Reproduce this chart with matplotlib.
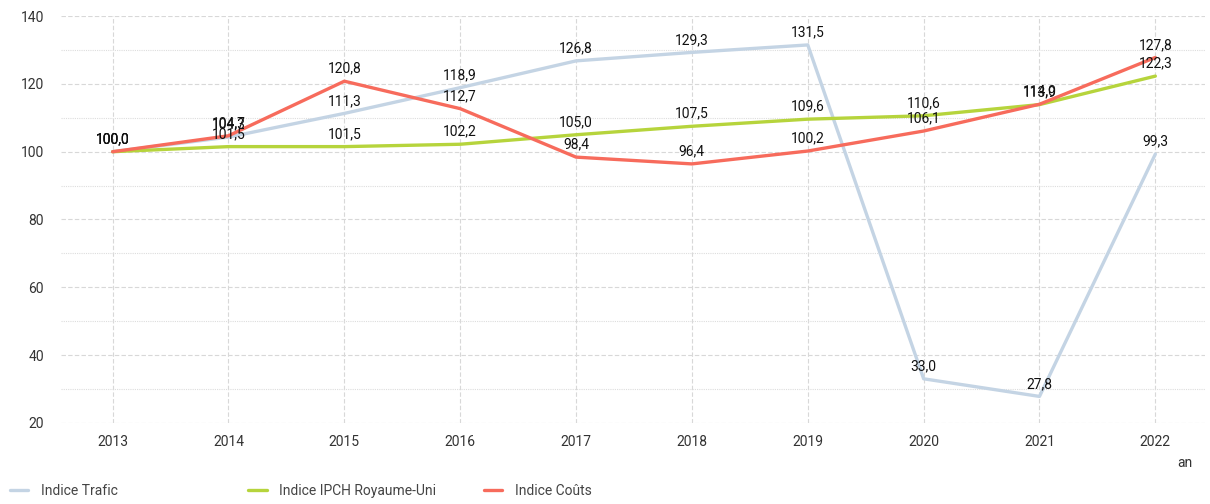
import matplotlib
matplotlib.use("Agg")
import matplotlib.pyplot as plt
from matplotlib.ticker import MultipleLocator

plt.rcParams['font.family'] = ['Roboto', 'DejaVu Sans']

years = [2013, 2014, 2015, 2016, 2017, 2018, 2019, 2020, 2021, 2022]
trafic = [100.0, 104.3, 111.3, 118.9, 126.8, 129.3, 131.5, 33.0, 27.8, 99.3]
ipch = [100.0, 101.5, 101.5, 102.2, 105.0, 107.5, 109.6, 110.6, 113.9, 122.3]
couts = [100.0, 104.7, 120.8, 112.7, 98.4, 96.4, 100.2, 106.1, 114.0, 127.8]
series_names = ["Indice Trafic", "Indice IPCH Royaume-Uni", "Indice Coûts"]
colors = ["#c4d4e4", "#b6d43c", "#f76b5c"]

fig = plt.figure(figsize=(12.1, 5.04), dpi=100)
ax = fig.add_axes([0.05, 0.161, 0.946, 0.807])

lines = []
for vals, name, c in zip([trafic, ipch, couts], series_names, colors):
    ln, = ax.plot(years, vals, color=c, lw=2.4, label=name, solid_capstyle='round', zorder=3)
    lines.append(ln)

for vals in [trafic, ipch, couts]:
    for x, v in zip(years, vals):
        ax.annotate(f"{v:.1f}".replace(".", ","), (x, v), xytext=(0, 4),
                    textcoords="offset points", ha="center", va="bottom",
                    fontsize=10, color="#111111", zorder=5)

ax.set_xlim(2012.55, 2022.43)
ax.set_ylim(20, 140)
ax.set_xticks(years)
ax.yaxis.set_major_locator(MultipleLocator(20))
ax.yaxis.set_minor_locator(MultipleLocator(10))
ax.grid(True, which="major", axis="both", color="#d8d8d8", ls=(0, (4, 2)), lw=0.8)
ax.grid(True, which="minor", axis="y", color="#dddddd", ls=(0, (1, 1)), lw=0.8)
ax.tick_params(which="both", length=0, labelsize=10, labelcolor="#333333")
ax.tick_params(axis="y", pad=12)
ax.tick_params(axis="x", pad=9)
for s in ax.spines.values():
    s.set_visible(False)

fig.text(0.979, 0.081, "an", fontsize=10, color="#333333", ha="center", va="center")

legend_x = [-0.002, 0.195, 0.39]
for ln, lx in zip(lines, legend_x):
    fig.legend(handles=[ln], loc="center left", bbox_to_anchor=(lx, 0.026),
               frameon=False, fontsize=10, handlelength=1.3, handletextpad=0.9,
               labelcolor="#444444")

fig.savefig("out.png", dpi=100)
